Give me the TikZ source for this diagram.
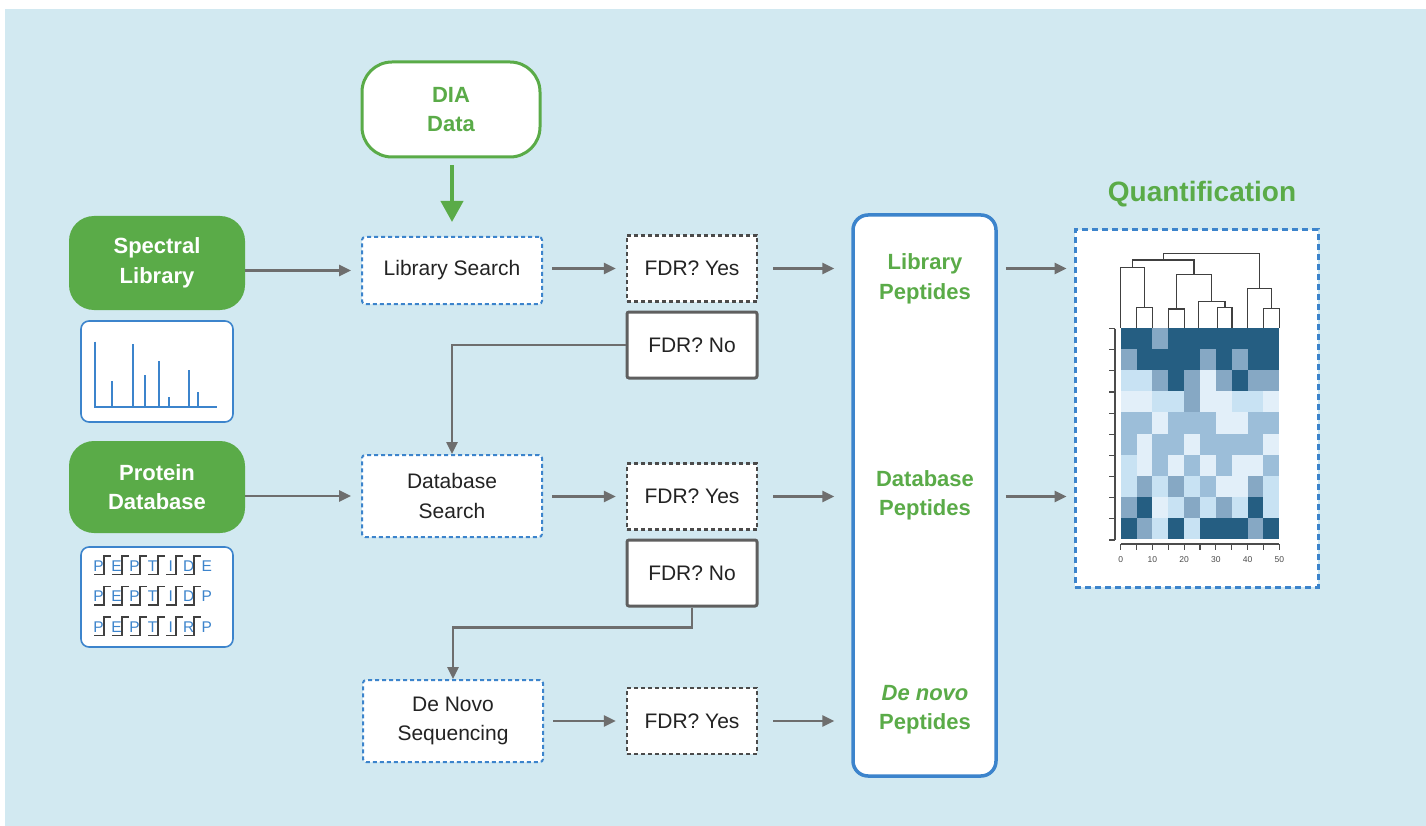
\documentclass[tikz,border=0pt]{standalone}
\usepackage{fontspec}
\setmainfont{Liberation Sans}
\usetikzlibrary{arrows.meta,calc}

\definecolor{bgblue}{RGB}{210,233,241}
\definecolor{leafgreen}{RGB}{90,171,72}
\definecolor{boxblue}{RGB}{60,132,204}
\definecolor{linegray}{RGB}{110,110,110}
\definecolor{dashgray}{RGB}{75,75,75}
\definecolor{solidgray}{RGB}{95,95,95}
\definecolor{txtdark}{RGB}{35,35,35}
\definecolor{hD}{RGB}{37,94,130}
\definecolor{hM}{RGB}{134,168,196}
\definecolor{hL}{RGB}{156,190,217}
\definecolor{hP}{RGB}{200,226,243}
\definecolor{hV}{RGB}{226,239,249}

\begin{document}
\begin{tikzpicture}[x=1pt,y=-1pt,
  greenbox/.style={fill=leafgreen, draw=none, rounded corners=25pt, text=white,
    font=\bfseries\fontsize{22}{29.5}\selectfont, align=center,
    minimum width=176pt, inner sep=0pt},
  iconbox/.style={fill=white, draw=boxblue, line width=1.6pt, rounded corners=8pt,
    minimum width=152pt, inner sep=0pt},
  searchbox/.style={fill=white, draw=boxblue, line width=2pt, dash pattern=on 4pt off 3pt,
    rounded corners=3pt, minimum width=180pt, inner sep=0pt, text=txtdark,
    font=\fontsize{21}{29.5}\selectfont, align=center},
  fdryes/.style={fill=white, draw=dashgray, line width=2.5pt, dash pattern=on 4pt off 3pt,
    minimum width=130pt, minimum height=66pt, inner sep=0pt, text=txtdark,
    font=\fontsize{21}{25}\selectfont},
  fdrno/.style={fill=white, draw=solidgray, line width=3pt, rounded corners=2pt,
    minimum width=130pt, minimum height=66pt, inner sep=0pt, text=txtdark,
    font=\fontsize{21}{25}\selectfont},
  greenlabel/.style={text=leafgreen, font=\bfseries\fontsize{22}{29.5}\selectfont,
    align=center, inner sep=0pt},
  flow/.style={draw=linegray, line width=2.5pt, -{Triangle[length=12pt,width=11pt]}},
  pepletter/.style={text=boxblue, font=\fontsize{15.5}{16}\selectfont, inner sep=0pt},
  cutmark/.style={draw=black!75, line width=1.8pt},
  dendro/.style={draw=black!75, line width=1.4pt},
  axisline/.style={draw=black!70, line width=1.2pt}
]
\useasboundingbox (0,0) rectangle (1426,826);
\fill[white] (0,0) rectangle (1426,826);
\fill[bgblue] (5,9) rectangle (1426,826);

% --- inputs ---
\node[fill=white, draw=leafgreen, line width=3pt, rounded corners=30pt,
      minimum width=178pt, minimum height=95pt, inner sep=0pt,
      text=leafgreen, font=\bfseries\fontsize{22}{29.5}\selectfont, align=center]
      (dia) at (451,109.5) {DIA\\Data};
\node[greenbox, minimum height=94pt] (speclib) at (157,263) {Spectral\\Library};
\node[greenbox, minimum height=92pt] (protdb) at (157,487) {Protein\\Database};
\node[iconbox, minimum height=101pt] (specicon) at (157,371.5) {};
\node[iconbox, minimum height=100pt] (pepicon) at (157,597) {};

% spectrum sketch
\draw[boxblue, line width=2pt] (95,341.7) -- (95,406.7) -- (216.7,406.7);
\foreach \px/\py in {111.7/380.7, 132.7/344, 145/375, 159.3/361, 169.3/396.7, 189/370, 197.7/392}
  \draw[boxblue, line width=2pt] (\px,406.7) -- (\px,\py);

% peptide fragment sketch: letters with b/y cleavage marks
\foreach \seq [count=\r] in {{P,E,P,T,I,D,E},{P,E,P,T,I,D,P},{P,E,P,T,I,R,P}} {
  \pgfmathsetmacro\by{540.5+30.5*\r}
  \foreach \ch [count=\k] in \seq {
    \pgfmathsetmacro\lx{98.5+18.05*(\k-1)}
    \node[pepletter, anchor=base] (aa-\r-\k) at (\lx,\by) {\ch};
  }
  \foreach \k in {1,...,6} {
    \pgfmathsetmacro\mx{98.5+18.05*(\k-1)+5.5}
    \draw[cutmark] (\mx-10,\by+3.5) -- (\mx,\by+3.5) -- (\mx,\by-15) -- (\mx+7,\by-15);
  }
}

% --- search steps ---
\node[searchbox, minimum height=67pt] (libsearch) at (452,270.5) {Library Search};
\node[searchbox, minimum height=82pt] (dbsearch) at (452,496) {Database\\Search};
\node[searchbox, minimum height=82pt] (denovo) at (453,721) {De Novo\\Sequencing};

\node[fdryes] (fdry1) at (692,268.5) {FDR? Yes};
\node[fdrno]  (fdrn1) at (692,345) {FDR? No};
\node[fdryes] (fdry2) at (692,496.5) {FDR? Yes};
\node[fdrno]  (fdrn2) at (692,573) {FDR? No};
\node[fdryes] (fdry3) at (692,721) {FDR? Yes};

% --- results ---
\node[fill=white, draw=boxblue, line width=3.5pt, rounded corners=15pt,
      minimum width=143pt, minimum height=561pt, inner sep=0pt] (pep) at (924.5,495.5) {};
\node[greenlabel] (libpep) at (925,279) {Library\\Peptides};
\node[greenlabel] (dbpep) at (925,495.5) {Database\\Peptides};
\node[greenlabel] (dnpep) at (925,709.5) {\itshape De novo\\Peptides};

\node[text=leafgreen, font=\bfseries\fontsize{28}{30}\selectfont, inner sep=0pt]
      (quanttitle) at (1202,194) {Quantification};
\node[fill=white, draw=boxblue, line width=3pt, dash pattern=on 6pt off 4pt,
      minimum width=243pt, minimum height=357pt, inner sep=0pt] (quant) at (1196.5,408.5) {};

% heat map
\foreach \row [count=\r] in {
  {D,D,M,D,D,D,D,D,D,D},
  {M,D,D,D,D,M,D,M,D,D},
  {P,P,M,D,M,V,M,D,M,M},
  {V,V,P,P,M,V,V,P,P,V},
  {L,L,V,L,L,L,V,V,L,L},
  {L,V,L,L,V,L,L,L,L,V},
  {P,V,L,V,L,V,L,V,V,L},
  {P,M,P,M,P,L,V,V,M,P},
  {M,D,V,P,M,P,M,P,D,P},
  {D,M,P,D,P,D,D,D,M,D}} {
  \foreach \c [count=\k] in \row {
    \pgfmathsetmacro\cx{1120.7+15.86*(\k-1)}
    \pgfmathsetmacro\cy{327.7+21.16*(\r-1)}
    \fill[h\c] (\cx,\cy) rectangle ++(15.96,21.26);
  }
}
% axes
\draw[axisline] (1115,328.5) -- (1115,540);
\foreach \t in {0,...,10} {
  \pgfmathsetmacro\ty{328.5+21.15*\t}
  \draw[axisline] (1109,\ty) -- (1115,\ty);
}
\draw[axisline] (1120.7,544) -- (1279.3,544);
\foreach \t in {0,...,10} {
  \pgfmathsetmacro\tx{1120.7+15.86*\t}
  \draw[axisline] (\tx,544) -- (\tx,549.5);
}
\foreach \v [count=\i from 0] in {0,10,20,30,40,50} {
  \pgfmathsetmacro\tx{1120.7+31.72*\i}
  \node[text=black!70, font=\fontsize{8.5}{9}\selectfont, inner sep=0pt] (xt-\i) at (\tx,560) {\v};
}
% dendrogram
\draw[dendro] (1136.7,327.7) |- (1152.7,307.3) -- (1152.7,327.7);
\draw[dendro] (1120.7,327.7) |- (1144.7,267.3) -- (1144.7,307.3);
\draw[dendro] (1168.3,327.7) |- (1184.3,309) -- (1184.3,327.7);
\draw[dendro] (1217.7,327.7) |- (1232,307.7) -- (1232,327.7);
\draw[dendro] (1198.3,327.7) |- (1225,301.7) -- (1225,307.7);
\draw[dendro] (1176.3,309) |- (1211.7,274.3) -- (1211.7,301.7);
\draw[dendro] (1132.7,267.3) |- (1194,260) -- (1194,274.3);
\draw[dendro] (1263.7,327.7) |- (1279.3,308.3) -- (1279.3,327.7);
\draw[dendro] (1247.7,327.7) |- (1271.5,288.3) -- (1271.5,308.3);
\draw[dendro] (1163.3,260) |- (1259.6,253.3) -- (1259.6,288.3);

% --- connectors ---
\draw[draw=leafgreen, line width=4pt, -{Triangle[length=21pt,width=22pt]},
      shorten <=7pt, shorten >=14pt] (dia.south -| libsearch.north) -- (libsearch.north);

\draw[flow, shorten >=10pt] (speclib.east |- libsearch) -- (libsearch.west);
\draw[flow, shorten >=10pt] (protdb.east |- dbsearch) -- (dbsearch.west);

\draw[flow, shorten <=9pt, shorten >=10pt] (libsearch.east |- fdry1) -- (fdry1.west);
\draw[flow, shorten <=9pt, shorten >=10pt] (dbsearch.east |- fdry2) -- (fdry2.west);
\draw[flow, shorten <=9pt, shorten >=10pt] (denovo.east |- fdry3) -- (fdry3.west);

\draw[flow, shorten <=15pt, shorten >=17pt] (fdry1.east) -- (fdry1.east -| pep.west);
\draw[flow, shorten <=15pt, shorten >=17pt] (fdry2.east) -- (fdry2.east -| pep.west);
\draw[flow, shorten <=15pt, shorten >=17pt] (fdry3.east) -- (fdry3.east -| pep.west);

\draw[flow] (fdrn1.west) -| (dbsearch.north);
\draw[flow] (fdrn2.south) -- ++(0,20) -| (denovo.north);

\draw[flow, shorten <=8pt, shorten >=7pt] (pep.east |- fdry1) -- (quant.west |- fdry1);
\draw[flow, shorten <=8pt, shorten >=7pt] (pep.east |- fdry2) -- (quant.west |- fdry2);
\end{tikzpicture}
\end{document}
